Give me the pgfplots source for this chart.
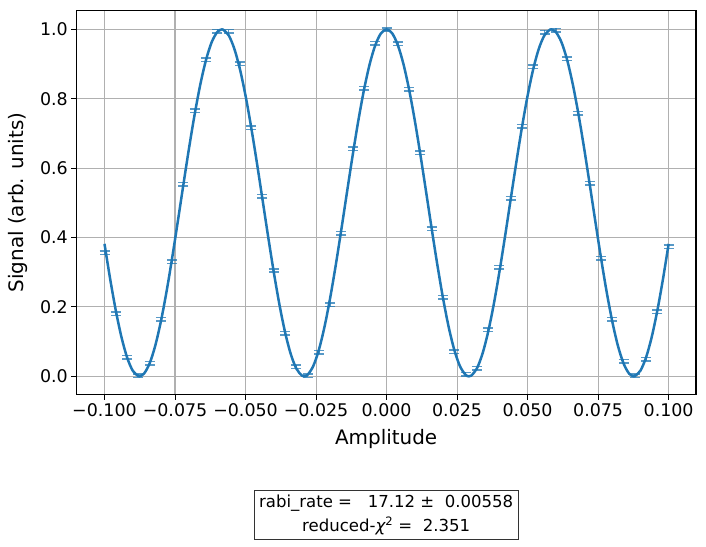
\documentclass[border=0pt]{standalone}
\usepackage{fontspec}
\setmainfont{DejaVu Sans}
\usepackage{pgfplots}
\usepackage{pgfplotstable}
\pgfplotsset{compat=1.18}
\definecolor{mplblue}{RGB}{31,119,180}

% measured points, 1-sigma error
\pgfplotstableread{
x y e
-0.100 0.356 0.005
-0.096 0.181 0.005
-0.092 0.055 0.005
-0.088 0.002 0.005
-0.084 0.037 0.005
-0.080 0.164 0.005
-0.076 0.330 0.005
-0.072 0.553 0.005
-0.068 0.765 0.005
-0.064 0.912 0.005
-0.060 0.995 0.005
-0.056 0.994 0.005
-0.052 0.901 0.005
-0.048 0.716 0.005
-0.044 0.519 0.005
-0.040 0.305 0.005
-0.036 0.124 0.005
-0.032 0.028 0.005
-0.028 0.002 0.005
-0.024 0.069 0.005
-0.020 0.206 0.005
-0.016 0.413 0.005
-0.012 0.656 0.005
-0.008 0.830 0.005
-0.004 0.960 0.005
0.000 0.999 0.005
0.004 0.959 0.005
0.008 0.827 0.005
0.012 0.644 0.005
0.016 0.426 0.005
0.020 0.228 0.005
0.024 0.071 0.005
0.028 0.006 0.005
0.032 0.023 0.005
0.036 0.134 0.005
0.040 0.314 0.005
0.044 0.513 0.005
0.048 0.721 0.005
0.052 0.892 0.005
0.056 0.992 0.005
0.060 0.998 0.005
0.064 0.915 0.005
0.068 0.758 0.005
0.072 0.556 0.005
0.076 0.340 0.005
0.080 0.165 0.005
0.084 0.044 0.005
0.088 0.002 0.005
0.092 0.049 0.005
0.096 0.186 0.005
0.100 0.374 0.005
}\datatab

% fitted curve, tabulated
\pgfplotstableread{
x y
-0.100 0.38174
-0.098 0.28076
-0.096 0.18988
-0.094 0.11330
-0.092 0.05455
-0.090 0.01634
-0.088 0.00042
-0.08762 0.00000
-0.086 0.00754
-0.084 0.03737
-0.082 0.08852
-0.080 0.15865
-0.078 0.24451
-0.076 0.34215
-0.074 0.44707
-0.072 0.55443
-0.070 0.65929
-0.068 0.75679
-0.066 0.84246
-0.064 0.91234
-0.062 0.96321
-0.060 0.99272
-0.05841 1.00000
-0.058 0.99951
-0.056 0.98328
-0.054 0.94476
-0.052 0.88573
-0.050 0.80893
-0.048 0.71788
-0.046 0.61678
-0.044 0.51030
-0.042 0.40335
-0.040 0.30085
-0.038 0.20753
-0.036 0.12770
-0.034 0.06503
-0.032 0.02242
-0.030 0.00182
-0.02921 0.00000
-0.028 0.00420
-0.026 0.02943
-0.024 0.07636
-0.022 0.14282
-0.020 0.22575
-0.018 0.32133
-0.016 0.42514
-0.014 0.53240
-0.012 0.63817
-0.010 0.73757
-0.008 0.82601
-0.006 0.89943
-0.004 0.95443
-0.002 0.98847
0.000 1.00000
0.002 0.98847
0.004 0.95443
0.006 0.89943
0.008 0.82601
0.010 0.73757
0.012 0.63817
0.014 0.53240
0.016 0.42514
0.018 0.32133
0.020 0.22575
0.022 0.14282
0.024 0.07636
0.026 0.02943
0.028 0.00420
0.02921 0.00000
0.030 0.00182
0.032 0.02242
0.034 0.06503
0.036 0.12770
0.038 0.20753
0.040 0.30085
0.042 0.40335
0.044 0.51030
0.046 0.61678
0.048 0.71788
0.050 0.80893
0.052 0.88573
0.054 0.94476
0.056 0.98328
0.058 0.99951
0.05841 1.00000
0.060 0.99272
0.062 0.96321
0.064 0.91234
0.066 0.84246
0.068 0.75679
0.070 0.65929
0.072 0.55443
0.074 0.44707
0.076 0.34215
0.078 0.24451
0.080 0.15865
0.082 0.08852
0.084 0.03737
0.086 0.00754
0.08762 0.00000
0.088 0.00042
0.090 0.01634
0.092 0.05455
0.094 0.11330
0.096 0.18988
0.098 0.28076
0.100 0.38174
}\fittab

\begin{document}
\begin{tikzpicture}
\useasboundingbox (-76.3bp,-152.3bp) rectangle (629.7bp,394.7bp);
\begin{axis}[
    name=ax,
    at={(0,0)}, anchor=south west,
    scale only axis,
    width=619.7bp, height=384.4bp,
    xmin=-0.11, xmax=0.1097,
    ymin=-0.053, ymax=1.055,
    xtick={-0.1,-0.075,-0.05,-0.025,0,0.025,0.05,0.075,0.1},
    xticklabels={−0.100,−0.075,−0.050,−0.025,0.000,0.025,0.050,0.075,0.100},
    ytick={0,0.2,0.4,0.6,0.8,1.0},
    yticklabels={0.0,0.2,0.4,0.6,0.8,1.0},
    tick align=outside,
    tick pos=left,
    major tick length=5bp,
    every tick/.style={black, line width=1bp},
    ticklabel style={font=\fontsize{17.5}{20}\selectfont},
    axis line style={line width=1.1bp},
    grid=major,
    major grid style={draw=black!31, line width=1.1bp},
    clip=false,
]
\addplot[color=mplblue, line width=2.5bp, smooth] table[x=x,y=y] {\fittab};
\addplot[color=mplblue, opacity=0.75, only marks, mark=-, mark size=0pt,
    error bars/.cd, y dir=both, y explicit,
    error bar style={line width=1.5bp},
    error mark options={rotate=90, mark size=5bp, line width=1.5bp}]
    table[x=x,y=y,y error=e] {\datatab};
\end{axis}
\node[font=\fontsize{20}{24}\selectfont] at ([yshift=-44.5bp]ax.south) {Amplitude};
\node[rotate=90, font=\fontsize{20}{24}\selectfont] at ([xshift=-58.3bp]ax.west) {Signal (arb. units)};
\node[draw=black!80, line width=1bp, align=center, inner xsep=5bp, inner ysep=4.5bp,
      font=\fontsize{16.6}{23.5}\selectfont]
      at ([yshift=-120.3bp]ax.south)
      {rabi\_rate =\ \ \ 17.12 ±\ \ 0.00558\\reduced-{\itshape χ}\textsuperscript{2} =\ \ 2.351};
\end{tikzpicture}
\end{document}
